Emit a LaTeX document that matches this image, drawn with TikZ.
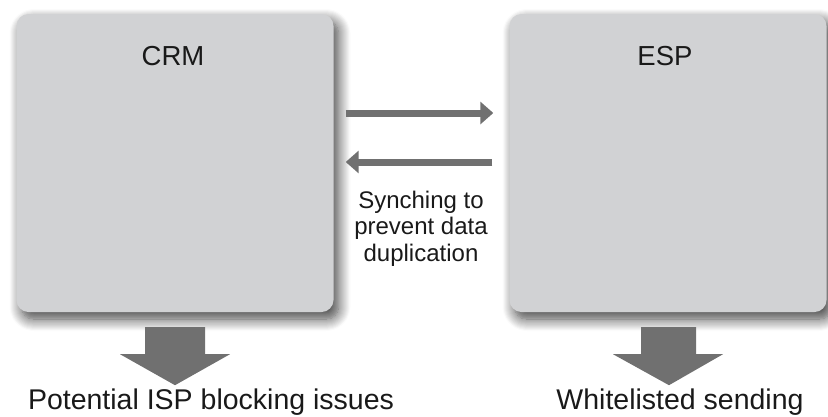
\documentclass[tikz,border=0pt]{standalone}
\usepackage{fontspec}
\setmainfont{Liberation Sans}
\usetikzlibrary{arrows.meta,calc,shadows.blur}
\definecolor{boxgray}{RGB}{209,210,212}
\definecolor{arrowgray}{RGB}{112,112,112}
\definecolor{txt}{RGB}{25,25,25}
\begin{document}
\begin{tikzpicture}[x=1pt,y=-1pt,
  panel/.style={fill=boxgray, rounded corners=12pt, minimum width=317pt, minimum height=298pt, inner sep=0pt,
    blur shadow={shadow xshift=5pt, shadow yshift=-7pt, shadow blur radius=12pt, shadow blur steps=12, shadow opacity=75}},
  title/.style={anchor=base, inner sep=0pt, text=txt, font=\fontsize{27.5}{30}\selectfont},
  caption/.style={anchor=base, inner sep=0pt, text=txt, font=\fontsize{28.5}{32}\selectfont},
  synctext/.style={anchor=north, inner sep=0pt, text=txt, align=center, font=\fontsize{24}{26.5}\selectfont},
  syncarrow/.style={draw=arrowgray, line width=7pt, -{Triangle[length=13pt,width=22pt]}},
  blockarrow/.style={fill=arrowgray}
]
\useasboundingbox (0,0) rectangle (828,416);

\node[panel] (crm) at (175,163) {};
\node[panel] (esp) at (668,163) {};

\node[title] (crmlabel) at (173,65) {CRM};
\node[title] (esplabel) at (665,65) {ESP};

\draw[syncarrow] ([xshift=12pt,yshift=50pt]crm.east) -- ([xshift=-16pt,yshift=50pt]esp.west);
\draw[syncarrow] ([xshift=-17pt,yshift=1pt]esp.west) -- ([xshift=12pt,yshift=1pt]crm.east);

\node[synctext] (sync) at (421,190.5) {Synching to\\prevent data\\duplication};

\fill[blockarrow] ($(crm.south)+(-30,15)$) -- ++(60,0) -- ++(0,27) -- ++(25,0)
  -- ($(crm.south)+(0,73)$) coordinate (crmtip) -- ($(crm.south)+(-55,42)$) -- ++(25,0) -- cycle;
\fill[blockarrow] ($(esp.south)+(-27,15)$) -- ++(55,0) -- ++(0,27) -- ++(27,0)
  -- ($(esp.south)+(1,73)$) coordinate (esptip) -- ($(esp.south)+(-55,42)$) -- ++(28,0) -- cycle;

\node[caption] (crmout) at (211,409.5) {Potential ISP blocking issues};
\node[caption] (espout) at (680,409.5) {Whitelisted sending};
\end{tikzpicture}
\end{document}
